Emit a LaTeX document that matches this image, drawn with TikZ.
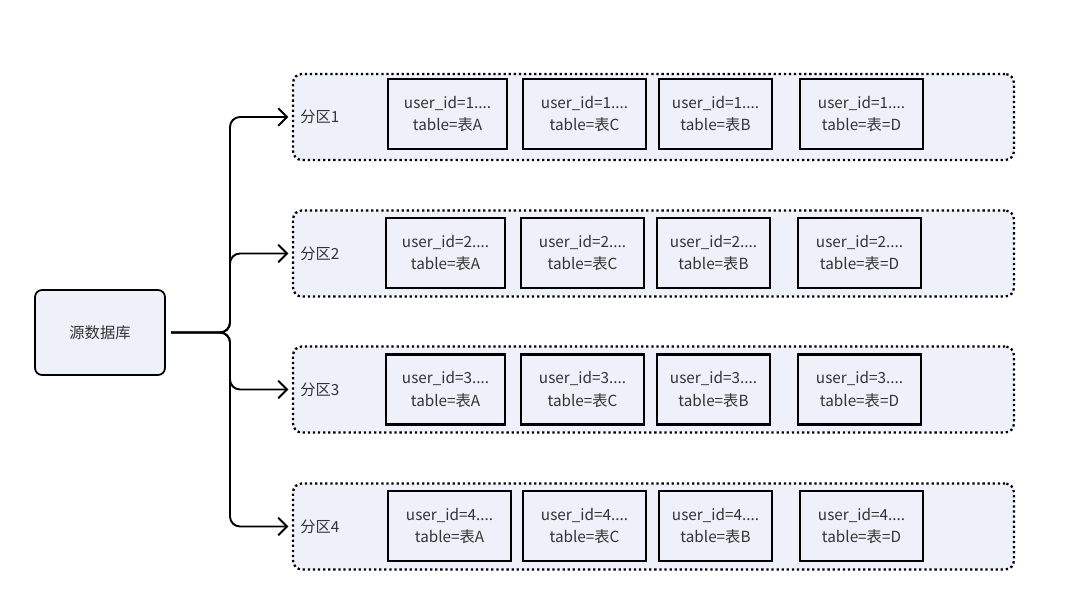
\documentclass[tikz,border=0pt]{standalone}
\usepackage{fontspec}
\setmainfont{Noto Sans CJK SC}
\usetikzlibrary{arrows.meta,positioning}
\definecolor{boxfill}{HTML}{EEF1F9}
\definecolor{ink}{HTML}{333333}
\tikzset{
  part/.style={draw=black, line width=1.3pt, dash pattern=on 1.3pt off 1.6pt, rounded corners=5pt, fill=boxfill,
               minimum width=14.42cm, minimum height=1.72cm},
  cell/.style={draw=black, line width=1.2pt, fill=boxfill, text=ink, align=center,
               minimum height=1.4cm, font=\fontsize{8.7}{12.6}\selectfont},
  src/.style={draw=black, line width=1pt, rounded corners=4pt, fill=boxfill, text=ink,
              minimum width=2.6cm, minimum height=1.7cm, font=\fontsize{8.7}{11}\selectfont},
  lbl/.style={anchor=west, text=ink, inner sep=0pt, font=\fontsize{8.7}{11}\selectfont},
  link/.style={line width=1.1pt, rounded corners=0.2cm, -{Straight Barb[length=5pt,width=10pt]}, shorten >=2pt}
}
\begin{document}
\begin{tikzpicture}[x=0.02cm, y=-0.02cm]
  \useasboundingbox (0,0) rectangle (1080,602);

  % source database
  \node[src] (src) at (100,332.5) {源数据库};

  % the four partitions
  \node[part] (p1) at (653.5,117) {};
  \node[part] (p2) at (653.5,253.5) {};
  \node[part] (p3) at (653.5,389.5) {};
  \node[part] (p4) at (653.5,526.5) {};
  \node[lbl] (l1) at (300,117) {分区1};
  \node[lbl] (l2) at (300,253.5) {分区2};
  \node[lbl] (l3) at (300,389.5) {分区3};
  \node[lbl] (l4) at (300,526.5) {分区4};

  % partition 1
  \node[cell, minimum width=2.38cm] (a1) at (447.5,114) {user\_id=1....\\table=表A};
  \node[cell, minimum width=2.46cm] (c1) at (584.5,114) {user\_id=1....\\table=表C};
  \node[cell, minimum width=2.26cm] (b1) at (715.5,114) {user\_id=1....\\table=表B};
  \node[cell, minimum width=2.46cm] (d1) at (861.5,114) {user\_id=1....\\table=表=D};

  % partition 2
  \node[cell, minimum width=2.38cm] (a2) at (445.5,253) {user\_id=2....\\table=表A};
  \node[cell, minimum width=2.46cm] (c2) at (582.5,253) {user\_id=2....\\table=表C};
  \node[cell, minimum width=2.26cm] (b2) at (713.5,253) {user\_id=2....\\table=表B};
  \node[cell, minimum width=2.46cm] (d2) at (859.5,253) {user\_id=2....\\table=表=D};

  % partition 3
  \node[cell, minimum width=2.38cm] (a3) at (445.5,389.5) {user\_id=3....\\table=表A};
  \node[cell, minimum width=2.46cm] (c3) at (582.5,389.5) {user\_id=3....\\table=表C};
  \node[cell, minimum width=2.26cm] (b3) at (713.5,389.5) {user\_id=3....\\table=表B};
  \node[cell, minimum width=2.46cm] (d3) at (859.5,389.5) {user\_id=3....\\table=表=D};

  % partition 4
  \node[cell, minimum width=2.46cm] (a4) at (449.5,526) {user\_id=4....\\table=表A};
  \node[cell, minimum width=2.46cm] (c4) at (584.5,526) {user\_id=4....\\table=表C};
  \node[cell, minimum width=2.26cm] (b4) at (715.5,526) {user\_id=4....\\table=表B};
  \node[cell, minimum width=2.46cm] (d4) at (861.5,526) {user\_id=4....\\table=表=D};

  % branches from the source
  \coordinate (fork) at (230,332.5);
  \draw[link, shorten <=3pt] (src.east) -- (fork) |- (p1.west);
  \draw[link, shorten <=3pt] (src.east) -- (fork) |- (p2.west);
  \draw[link, shorten <=3pt] (src.east) -- (fork) |- (p3.west);
  \draw[link, shorten <=3pt] (src.east) -- (fork) |- (p4.west);
\end{tikzpicture}
\end{document}
